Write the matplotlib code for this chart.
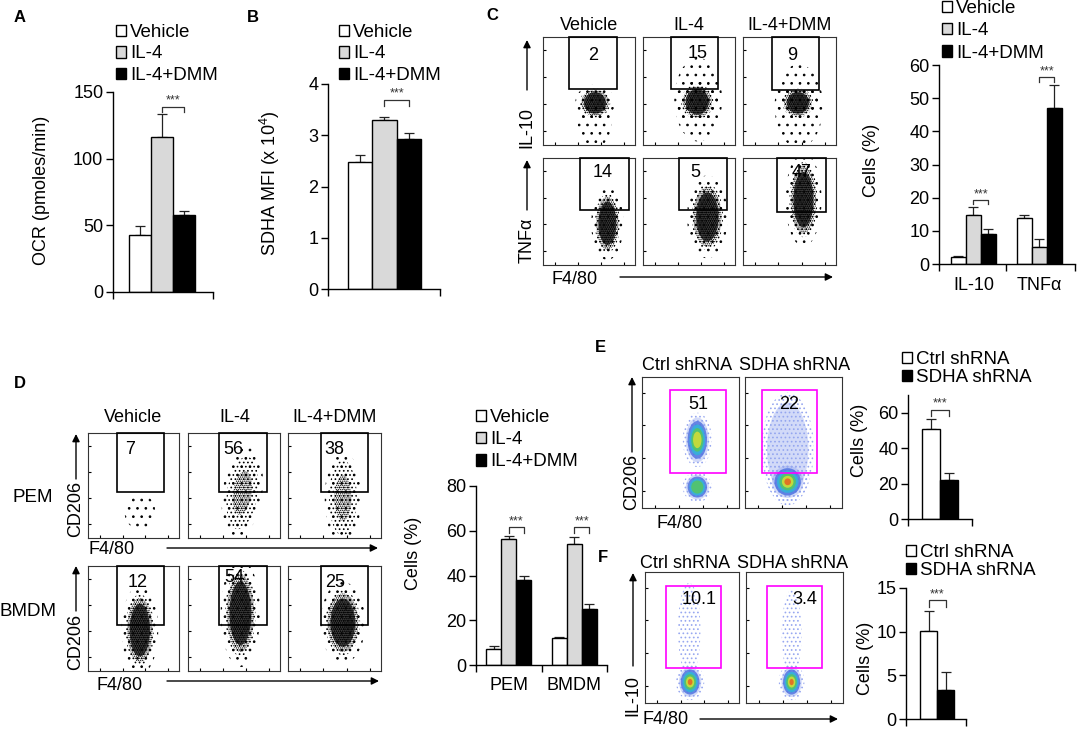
import numpy as np
import matplotlib.pyplot as plt
from matplotlib.patches import Ellipse, Rectangle

plt.rcParams['font.family'] = ['Liberation Sans', 'DejaVu Sans']
plt.rcParams['mathtext.fontset'] = 'custom'
plt.rcParams['mathtext.rm'] = 'Liberation Sans'
plt.rcParams['hatch.linewidth'] = 0.7

# ---- values ----
groups = ['Vehicle', 'IL-4', 'IL-4+DMM']
ocr = [43, 116, 58]
ocr_err = [6.5, 17.5, 2.7]
sdha = [2.48, 3.29, 2.93]
sdha_err = [0.13, 0.06, 0.11]

c_cats = ['IL-10', 'TNFα']
c_vals = [[2.0, 13.8], [14.8, 5.0], [9.0, 47.0]]
c_err = [[0.3, 1.0], [2.5, 2.5], [1.7, 7.0]]
c_gate_il10 = ['2', '15', '9']
c_gate_tnf = ['14', '5', '47']

d_cats = ['PEM', 'BMDM']
d_vals = [[7.0, 12.2], [56.2, 54.0], [38.0, 25.0]]
d_err = [[1.6, 0.3], [1.5, 3.3], [2.0, 2.2]]
d_gate_pem = ['7', '56', '38']
d_gate_bmdm = ['12', '54', '25']

shrna = ['Ctrl shRNA', 'SDHA shRNA']
e_vals = [[51], [22]]
e_err = [[5.5], [4.0]]
e_gate = ['51', '22']
f_vals = [[10.1], [3.3]]
f_err = [[2.3], [2.1]]
f_gate = ['10.1', '3.4']

W, H = 1084, 730
fig = plt.figure(figsize=(W / 100, H / 100), dpi=100)
fills3 = ['white', '#d9d9d9', 'black']
fills2 = ['white', 'black']


def px_axes(x0, y0, x1, y1):
    return fig.add_axes([x0 / W, 1 - y1 / H, (x1 - x0) / W, (y1 - y0) / H])


def bar_panel(rect, cats, vals, errs, colors, labels, gap, xlim, ytop, yticks,
              leg_xy, leg_space, brackets):
    ax = px_axes(*rect)
    n = len(vals)
    centers = np.arange(len(cats)) * gap
    for k in range(n):
        xs = centers + (k - (n - 1) / 2)
        ax.bar(xs, vals[k], width=1.0, color=colors[k], edgecolor='black',
               lw=1, label=labels[k], zorder=2)
        ax.errorbar(xs, vals[k], yerr=[np.zeros(len(cats)), errs[k]], fmt='none',
                    ecolor='#222222', elinewidth=0.9, capsize=3.5, capthick=0.9, zorder=1)
    ax.set_xlim(*xlim)
    ax.set_ylim(0, ytop)
    ax.set_yticks(yticks)
    for s in ['top', 'right']:
        ax.spines[s].set_visible(False)
    for s in ['left', 'bottom']:
        ax.spines[s].set_linewidth(1)
    ax.tick_params(axis='y', length=5, width=1, labelsize=13, pad=2)
    if len(cats) > 1:
        ax.set_xticks(centers)
        ax.set_xticklabels(cats)
        ax.tick_params(axis='x', length=0, labelsize=13, pad=9)
        ax.set_xticks([xlim[0], centers.mean(), xlim[1]], minor=True)
    else:
        ax.set_xticks([])
        ax.set_xticks([xlim[0], xlim[1]], minor=True)
    ax.tick_params(axis='x', which='minor', length=5, width=1)
    # significance brackets between the last two series
    for g, (yb, leg) in enumerate(brackets):
        x0 = centers[g] + (n - 2 - (n - 1) / 2)
        x1 = centers[g] + (n - 1 - (n - 1) / 2)
        ax.plot([x0, x0, x1, x1], [yb - leg, yb, yb, yb - leg], color='#333333', lw=0.9,
                clip_on=False)
        ax.text((x0 + x1) / 2, yb, '***', ha='center', va='bottom', fontsize=9,
                color='#333333')
    ax.legend(loc='upper left', bbox_to_anchor=(leg_xy[0] / W, 1 - leg_xy[1] / H),
              bbox_transform=fig.transFigure, frameon=False, fontsize=13.5,
              handlelength=0.55, handleheight=0.55, handletextpad=0.2,
              labelspacing=leg_space, borderpad=0, borderaxespad=0)
    return ax


def bw_cloud(ax, cx, cy, w, h, ang=0, dense=1):
    # speckled halo, dotted body and a darker core for the denser clouds
    ax.add_patch(Ellipse((cx, cy), w * 1.3, h * 1.25, angle=ang, fill=False,
                         hatch='..', ec='black', lw=0, zorder=1))
    if dense >= 1:
        ax.add_patch(Ellipse((cx, cy), w, h, angle=ang, fill=False,
                             hatch='....', ec='black', lw=0, zorder=1))
        ax.add_patch(Ellipse((cx, cy), w * 0.6, h * 0.6, angle=ang, fill=False,
                             hatch='........', ec='black', lw=0, zorder=1))
    if dense >= 2:
        ax.add_patch(Ellipse((cx, cy), w * 0.72, h * 0.74, angle=ang, fc='#111111',
                             alpha=0.8, lw=0, zorder=1))
        ax.add_patch(Ellipse((cx, cy), w * 0.9, h * 0.9, angle=ang, fill=False,
                             hatch='........', ec='black', lw=0, zorder=1))


heat = ['#8fa3ee', '#4a6fe0', '#2fb8d8', '#58c858', '#e0e030', '#e85a20']


def color_cloud(ax, cx, cy, w, h, levels):
    ax.add_patch(Ellipse((cx, cy), w * 1.2, h * 1.15, fill=False, hatch='....',
                         ec='#98a8f0', lw=0, zorder=1))
    for i in range(levels):
        f = 0.95 - i * 0.15
        ax.add_patch(Ellipse((cx, cy), w * f, h * f, color=heat[i],
                             alpha=0.4 if i == 0 else 0.8, lw=0, zorder=1 + i * 0.01))


def flow_plot(rect, gate, number, num_xy, clouds, colored=False):
    ax = px_axes(*rect)
    ax.set_xlim(0, 1)
    ax.set_ylim(0, 1)
    for c in clouds:
        if colored:
            color_cloud(ax, *c)
        else:
            bw_cloud(ax, *c)
    gc = '#ff00ff' if colored else 'black'
    ax.add_patch(Rectangle((gate[0], gate[2]), gate[1] - gate[0], gate[3] - gate[2],
                           fill=False, ec=gc, lw=1.2, zorder=3, clip_on=False))
    ax.text(num_xy[0], num_xy[1], number, ha='center', va='center', fontsize=13, zorder=4)
    for s in ax.spines.values():
        s.set_linewidth(0.8)
        s.set_color('#333333')
    ax.set_xticks([0.13, 0.38, 0.63, 0.88])
    ax.set_yticks([0.13, 0.38, 0.63, 0.88])
    ax.set_xticklabels([])
    ax.set_yticklabels([])
    ax.tick_params(direction='in', length=2.5, width=0.8)
    return ax


# ---- A ----
bar_panel((113, 92, 213, 292), ['x'], [[v] for v in ocr], [[e] for e in ocr_err], fills3,
          groups, 1, (-2.25, 2.3), 150, [0, 50, 100, 150], (116, 24), 0.24,
          [(139, 4)])
# ---- B ----
bar_panel((328, 84, 440, 289), ['x'], [[v] for v in sdha], [[e] for e in sdha_err], fills3,
          groups, 1, (-2.3, 2.27), 4, [0, 1, 2, 3, 4], (339, 24), 0.24,
          [(3.69, 0.12)])
# ---- C bars ----
bar_panel((939, 65, 1075, 264), c_cats, c_vals, c_err, fills3, groups, 4.4,
          (-2.3, 6.77), 60, [0, 10, 20, 30, 40, 50, 60], (942, 0), 0.28,
          [(19.3, 1.3), (56.4, 1.6)])
# ---- D bars ----
bar_panel((476, 486, 607, 665), d_cats, d_vals, d_err, fills3, groups, 4.33,
          (-2.17, 6.5), 80, [0, 20, 40, 60, 80], (476, 409), 0.28,
          [(61.7, 2.5), (61.7, 2.5)])
# ---- E bars ----
bar_panel((908, 395, 972, 519), ['x'], e_vals, e_err, fills2, shrna, 1,
          (-1.78, 1.78), 70, [0, 20, 40, 60], (902, 351), 0.07,
          [(61.7, 3.5)])
# ---- F bars ----
bar_panel((906, 588, 966, 719), ['x'], f_vals, f_err, fills2, shrna, 1,
          (-1.82, 1.7), 15, [0, 5, 10, 15], (906, 544), 0.07,
          [(13.6, 0.8)])

# ---- C flow plots ----
c_cols = [(543, 635), (643, 735), (743, 836)]
c_row1_gates = [(0.28, 0.80, 0.52, 1.0), (0.30, 0.82, 0.52, 1.0), (0.31, 0.82, 0.51, 1.0)]
c_row1_nums = [(0.54, 0.83), (0.59, 0.85), (0.53, 0.83)]
c_row1_clouds = [[(0.565, 0.39, 0.33, 0.27, 0, 2), (0.56, 0.20, 0.28, 0.36, 0, 0)],
                 [(0.59, 0.40, 0.35, 0.32, 0, 2), (0.60, 0.42, 0.40, 0.62, 0, 0)],
                 [(0.59, 0.39, 0.33, 0.27, 0, 2), (0.60, 0.36, 0.40, 0.62, 0, 0)]]
c_row2_gates = [(0.40, 0.93, 0.51, 1.0), (0.39, 0.91, 0.51, 1.0), (0.37, 0.89, 0.50, 1.0)]
c_row2_nums = [(0.65, 0.86), (0.57, 0.86), (0.63, 0.86)]
c_row2_clouds = [[(0.70, 0.39, 0.27, 0.55, 0, 2)],
                 [(0.70, 0.45, 0.34, 0.62, 0, 2)],
                 [(0.65, 0.61, 0.30, 0.70, 0, 2)]]
for i, (x0, x1) in enumerate(c_cols):
    flow_plot((x0, 37, x1, 145), c_row1_gates[i], c_gate_il10[i], c_row1_nums[i], c_row1_clouds[i])
    flow_plot((x0, 158, x1, 265), c_row2_gates[i], c_gate_tnf[i], c_row2_nums[i], c_row2_clouds[i])

# ---- D flow plots ----
d_cols = [(88, 179), (188, 280), (288, 381)]
d_gx = [(0.32, 0.84), (0.34, 0.86), (0.35, 0.86)]
d_row1_nums = [(0.46, 0.84), (0.49, 0.84), (0.50, 0.84)]
d_row1_clouds = [[(0.57, 0.25, 0.26, 0.27, 0, 0)],
                 [(0.59, 0.43, 0.33, 0.70, -10, 1)],
                 [(0.59, 0.38, 0.30, 0.72, 0, 1)]]
d_row2_nums = [(0.55, 0.84), (0.50, 0.89), (0.51, 0.84)]
d_row2_clouds = [[(0.57, 0.39, 0.31, 0.68, 0, 2)],
                 [(0.57, 0.55, 0.33, 0.82, 0, 2)],
                 [(0.59, 0.46, 0.37, 0.62, 0, 2)]]
for i, (x0, x1) in enumerate(d_cols):
    flow_plot((x0, 433, x1, 538), d_gx[i] + (0.44, 1.0), d_gate_pem[i], d_row1_nums[i], d_row1_clouds[i])
    flow_plot((x0, 566, x1, 671), d_gx[i] + (0.44, 1.0), d_gate_bmdm[i], d_row2_nums[i], d_row2_clouds[i])

# ---- E / F flow plots ----
flow_plot((642, 377, 739, 508), (0.29, 0.87, 0.27, 0.90), e_gate[0], (0.58, 0.79),
          [(0.57, 0.52, 0.25, 0.36, 5), (0.57, 0.16, 0.25, 0.20, 4)], colored=True)
flow_plot((745, 377, 842, 508), (0.18, 0.74, 0.27, 0.90), e_gate[1], (0.46, 0.79),
          [(0.44, 0.45, 0.45, 0.75, 1), (0.44, 0.20, 0.34, 0.26, 6)], colored=True)
flow_plot((645, 572, 739, 703), (0.22, 0.81, 0.27, 0.89), f_gate[0], (0.58, 0.79),
          [(0.47, 0.56, 0.20, 0.62, 0), (0.48, 0.16, 0.25, 0.24, 6)], colored=True)
flow_plot((746, 572, 843, 703), (0.22, 0.78, 0.27, 0.89), f_gate[1], (0.61, 0.79),
          [(0.47, 0.53, 0.17, 0.58, 0), (0.47, 0.16, 0.22, 0.24, 6)], colored=True)

# ---- text overlay in pixel coordinates ----
ov = fig.add_axes([0, 0, 1, 1])
ov.set_xlim(0, W)
ov.set_ylim(H, 0)
ov.axis('off')


def arrow(x0, y0, x1, y1):
    ov.annotate('', xy=(x1, y1), xytext=(x0, y0),
                arrowprops=dict(arrowstyle='-|>', color='black', lw=1, mutation_scale=11,
                                shrinkA=0, shrinkB=0))


def t(x, y, s, size=13, rot=0, bold=False):
    ov.text(x, y, s, ha='center', va='center', fontsize=size, rotation=rot,
            fontweight='bold' if bold else 'normal')


for lab, x, y in [('A', 20, 17), ('B', 253, 17), ('C', 492, 15), ('D', 20, 383),
                  ('E', 600, 348), ('F', 603, 558)]:
    t(x, y, lab, size=12, bold=True)

t(42, 190, 'OCR (pmoles/min)', size=13, rot=90)
t(270, 183, 'SDHA MFI (x 10$^4$)', size=13, rot=90)
t(872, 160, 'Cells (%)', size=13, rot=90)
t(413, 553, 'Cells (%)', size=13, rot=90)
t(860, 440, 'Cells (%)', size=13, rot=90)
t(865, 658, 'Cells (%)', size=13, rot=90)

# C flow labels
for x, g in zip([589, 689, 790], groups):
    t(x, 25, g)
t(527, 128, 'IL-10', rot=90)
arrow(527, 90, 527, 40)
t(527, 240, 'TNFα', rot=90)
arrow(527, 210, 527, 160)
t(575, 280, 'F4/80')
arrow(620, 277, 833, 277)

# D flow labels
for x, g in zip([133, 235, 335], groups):
    t(x, 418, g)
t(33, 498, 'PEM', size=13.5)
t(28, 612, 'BMDM', size=13.5)
t(76, 509, 'CD206', rot=90)
arrow(76, 479, 76, 434)
t(76, 642, 'CD206', rot=90)
arrow(76, 611, 76, 566)
t(112, 550, 'F4/80')
arrow(167, 548, 378, 548)
t(120, 685, 'F4/80')
arrow(167, 681, 379, 681)

# E / F labels
t(687, 365, shrna[0])
t(795, 365, shrna[1])
t(632, 482, 'CD206', rot=90)
arrow(632, 452, 632, 377)
t(680, 523, 'F4/80')
t(685, 563, shrna[0])
t(793, 563, shrna[1])
t(633, 695, 'IL-10', rot=90)
arrow(633, 666, 633, 573)
t(666, 720, 'F4/80')
arrow(700, 719, 838, 719)

fig.savefig('out.png', dpi=100, facecolor='white')
